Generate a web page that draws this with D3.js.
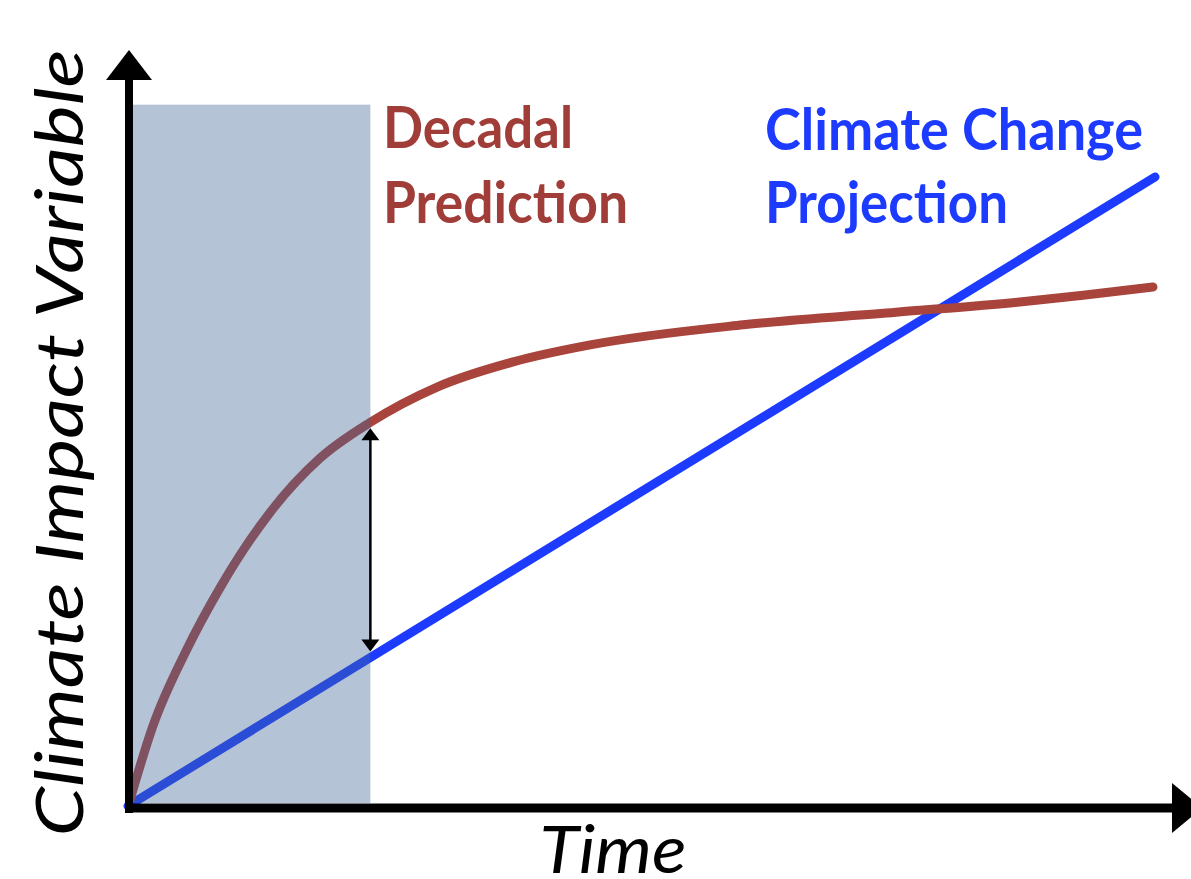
<!DOCTYPE html>
<html>
<head>
<meta charset="utf-8">
<script src="https://cdn.jsdelivr.net/npm/d3@7"></script>
<style>
  html, body { margin: 0; padding: 0; background: #ffffff; }
  svg { display: block; }
</style>
</head>
<body>
<svg id="chart" width="1191" height="879"></svg>
<script>
// ---- data ----
const timeDomain = [0, 100];
const valueDomain = [0, 100];
const projectionTime = [0, 100];
const projectionValue = [0, 100];
const predictionTime = [0.2, 2.4, 5.7, 9.0, 13.8, 18.7, 23.6, 30.1, 37.5, 45.0, 59.9, 74.8, 86.6, 93.0, 99.8];
const predictionValue = [1.0, 12.6, 24.8, 34.8, 46.6, 55.3, 61.0, 66.6, 70.6, 73.3, 76.5, 78.5, 80.1, 81.2, 82.5];
const decadalWindow = [0, 23.6];
const windowTop = 111.5;
const seriesLabels = [["Decadal", "Prediction"], ["Climate Change", "Projection"]];
const xAxisTitle = "Time";
const yAxisTitle = "Climate Impact Variable";

(function () {
// ---- scales ----
const svg = d3.select("#chart");
const x = d3.scaleLinear().domain(timeDomain).range([128, 1155]);
const y = d3.scaleLinear().domain(valueDomain).range([806, 177]);

const RED = "#a8443c", RED_TEXT = "#a13d38", BLUE = "#1c3bff";

const line = d3.line().x(d => x(d[0])).y(d => y(d[1])).curve(d3.curveMonotoneX);

// projection line
svg.append("path")
  .datum(projectionTime.map((t, i) => [t, projectionValue[i]]))
  .attr("d", d3.line().x(d => x(d[0])).y(d => y(d[1])))
  .attr("fill", "none").attr("stroke", BLUE).attr("stroke-width", 9).attr("stroke-linecap", "round");

// prediction curve
svg.append("path")
  .datum(predictionTime.map((t, i) => [t, predictionValue[i]]))
  .attr("d", line)
  .attr("fill", "none").attr("stroke", RED).attr("stroke-width", 9).attr("stroke-linecap", "round");

// decadal window (overlay)
svg.append("rect")
  .attr("x", x(decadalWindow[0]) + 5)
  .attr("y", y(windowTop))
  .attr("width", x(decadalWindow[1]) - x(decadalWindow[0]) - 5)
  .attr("height", y(0) - 3 - y(windowTop))
  .attr("fill", "rgb(68,105,153)").attr("fill-opacity", 0.4);

// axes
const axisY = 808, axisX = 129;
svg.append("line").attr("x1", axisX).attr("x2", axisX).attr("y1", axisY + 5).attr("y2", 78)
  .attr("stroke", "#000").attr("stroke-width", 8);
svg.append("path").attr("d", `M${axisX},50 L${axisX + 23},80 L${axisX - 23},80 Z`).attr("fill", "#000");
svg.append("line").attr("x1", axisX - 4).attr("x2", 1174).attr("y1", axisY).attr("y2", axisY)
  .attr("stroke", "#000").attr("stroke-width", 9);
svg.append("path").attr("d", `M1202,${axisY} L1172,${axisY - 25} L1172,${axisY + 25} Z`).attr("fill", "#000");

// double arrow at end of window
const ax = x(decadalWindow[1]);
const yTop = y(predictionValue[predictionTime.indexOf(decadalWindow[1])]) + 6;
const yBot = y(decadalWindow[1]) - 6;
svg.append("line").attr("x1", ax).attr("x2", ax).attr("y1", yTop + 8).attr("y2", yBot - 8)
  .attr("stroke", "#000").attr("stroke-width", 2.5);
svg.append("path").attr("d", `M${ax},${yTop} L${ax + 9},${yTop + 12} L${ax - 9},${yTop + 12} Z`).attr("fill", "#000");
svg.append("path").attr("d", `M${ax},${yBot} L${ax + 9},${yBot - 12} L${ax - 9},${yBot - 12} Z`).attr("fill", "#000");

// labels
const font = "Lato, 'Open Sans', sans-serif";
function label(txt, x0, yb, w, color) {
  svg.append("text").attr("x", x0).attr("y", yb).text(txt)
    .attr("font-family", font).attr("font-weight", "bold").attr("font-size", 58)
    .attr("fill", color).attr("textLength", w).attr("lengthAdjust", "spacingAndGlyphs");
}
label(seriesLabels[0][0], 383, 148, 190, RED_TEXT);
label(seriesLabels[0][1], 383, 223, 245, RED_TEXT);
label(seriesLabels[1][0], 765, 150, 378, BLUE);
label(seriesLabels[1][1], 765, 223, 243, BLUE);

// axis titles
svg.append("text").attr("x", 613).attr("y", 873).attr("text-anchor", "middle")
  .attr("font-family", font).attr("font-style", "italic").attr("font-size", 66)
  .attr("textLength", 147).attr("lengthAdjust", "spacingAndGlyphs")
  .attr("fill", "#000").text(xAxisTitle);
svg.append("text").attr("transform", "translate(83,443) rotate(-90)").attr("text-anchor", "middle")
  .attr("font-family", font).attr("font-style", "italic").attr("font-size", 66)
  .attr("textLength", 787).attr("lengthAdjust", "spacingAndGlyphs")
  .attr("fill", "#000").text(yAxisTitle);
})();
</script>
</body>
</html>
